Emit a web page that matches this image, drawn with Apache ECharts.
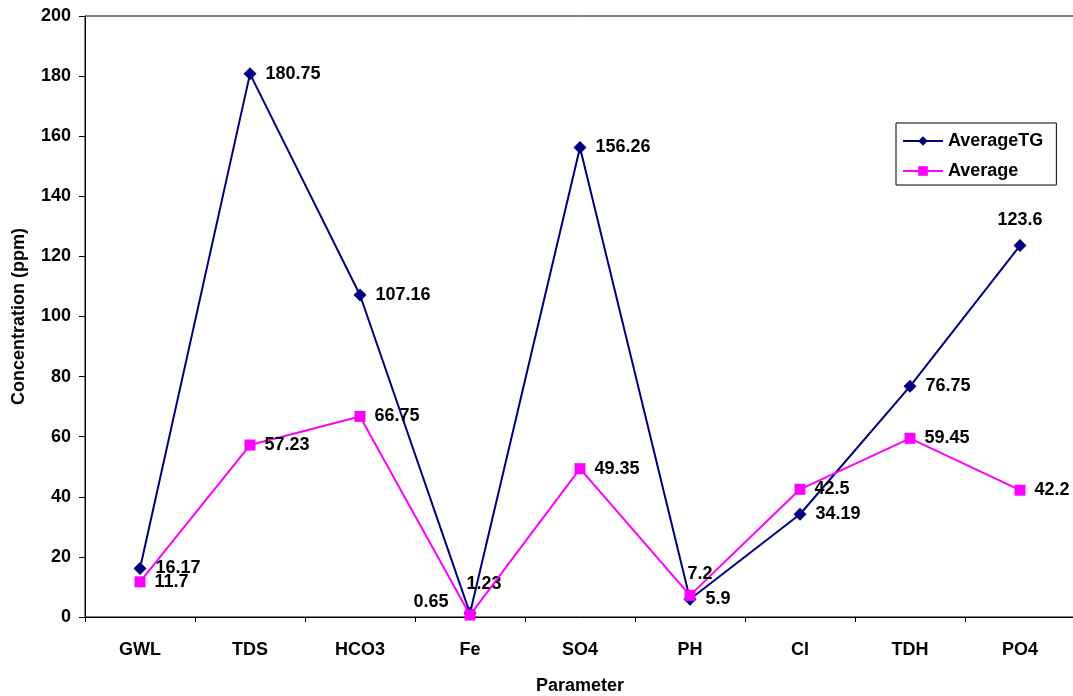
<!DOCTYPE html>
<html>
<head>
<meta charset="utf-8">
<script src="https://cdn.jsdelivr.net/npm/echarts@6/dist/echarts.min.js"></script>
<style>html,body{margin:0;padding:0;background:#fff;}#c{width:1073px;height:696px;}</style>
</head>
<body>
<div id="c"></div>
<script>
const categories = ['GWL','TDS','HCO3','Fe','SO4','PH','Cl','TDH','PO4'];
const averageTG = [16.17, 180.75, 107.16, 1.23, 156.26, 5.9, 34.19, 76.75, 123.6];
const average = [11.7, 57.23, 66.75, 0.65, 49.35, 7.2, 42.5, 59.45, 42.2];
const yTicks = [0, 20, 40, 60, 80, 100, 120, 140, 160, 180, 200];

const FONT = '"Liberation Sans", Arial, sans-serif';
const labelBase = {show: true, position: 'right', distance: 9, color: '#000', fontSize: 18, fontWeight: 'bold', fontFamily: FONT};

const tgOverrides = {3: {offset: [-19, -29]}, 8: {position: 'top', distance: 10}};
const avOverrides = {3: {position: 'left', offset: [-7, -13]}, 5: {offset: [-17, -21]}};

function build(vals, ov) {
  return vals.map((v, i) => ov[i] ? {value: v, label: Object.assign({}, ov[i])} : v);
}

const chart = echarts.init(document.getElementById('c'));
chart.setOption({
  backgroundColor: '#fff',
  animation: false,
  grid: {left: 85, top: 16, width: 990, height: 601, show: true, borderColor: '#000', borderWidth: 1, backgroundColor: 'transparent', outerBoundsMode: 'none', containLabel: false},
  legend: {
    left: 896, top: 123, orient: 'vertical',
    borderColor: '#000', borderWidth: 1, padding: [8, 13, 4, 6],
    itemWidth: 40, itemHeight: 12, itemGap: 10,
    textStyle: {fontSize: 18, fontWeight: 'bold', fontFamily: FONT, color: '#000', lineHeight: 20},
    data: ['AverageTG', 'Average']
  },
  xAxis: {
    type: 'category', data: categories, boundaryGap: true,
    name: 'Parameter', nameLocation: 'middle', nameGap: 60,
    nameTextStyle: {fontSize: 18, fontWeight: 'bold', fontFamily: FONT, color: '#000'},
    axisLine: {lineStyle: {color: '#000', width: 1}},
    axisTick: {show: true, inside: false, length: 5, alignWithLabel: false, lineStyle: {color: '#000'}},
    axisLabel: {fontSize: 18, fontWeight: 'bold', fontFamily: FONT, color: '#000', margin: 24},
    splitLine: {show: false}
  },
  yAxis: {
    type: 'value', min: yTicks[0], max: yTicks[yTicks.length - 1], interval: yTicks[1] - yTicks[0],
    name: 'Concentration (ppm)', nameLocation: 'middle', nameGap: 57, nameRotate: 90,
    nameTextStyle: {fontSize: 18, fontWeight: 'bold', fontFamily: FONT, color: '#000'},
    axisLine: {show: true, lineStyle: {color: '#000', width: 1}},
    axisTick: {show: true, inside: false, length: 6, lineStyle: {color: '#000'}},
    axisLabel: {fontSize: 18, fontWeight: 'bold', fontFamily: FONT, color: '#000', margin: 14},
    splitLine: {show: false}
  },
  series: [
    {
      name: 'AverageTG', type: 'line', data: build(averageTG, tgOverrides),
      symbol: 'diamond', symbolSize: 13, showAllSymbol: true,
      itemStyle: {color: '#000080'}, lineStyle: {color: '#000080', width: 2},
      label: labelBase, z: 3
    },
    {
      name: 'Average', type: 'line', data: build(average, avOverrides),
      symbol: 'rect', symbolSize: 11, showAllSymbol: true,
      itemStyle: {color: '#FF00FF'}, lineStyle: {color: '#FF00FF', width: 2},
      label: labelBase, z: 4
    }
  ]
});
</script>
</body>
</html>
